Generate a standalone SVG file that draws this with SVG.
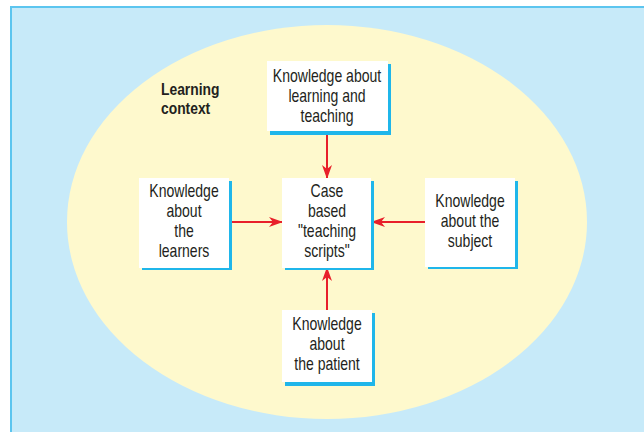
<svg xmlns="http://www.w3.org/2000/svg" width="644" height="432" viewBox="0 0 644 432">
<defs>
<marker id="ah" viewBox="0 0 14 10" refX="13" refY="5" markerWidth="14" markerHeight="10" markerUnits="userSpaceOnUse" orient="auto">
<path d="M0,0 L14,5 L0,10 L4,5 Z" fill="#e8202a"/>
</marker>
</defs>
<style>
.bg{fill:#c7eaf9;stroke:#5cc5ef;stroke-width:2}
.ell{fill:#fef9cd}
.shadow{fill:#1fb6ea}
.box{fill:#ffffff}
.t{font-family:"Liberation Sans",Arial,sans-serif;font-size:18px;fill:#231f20;text-anchor:middle}
.lc{font-family:"Liberation Sans",Arial,sans-serif;font-size:16.5px;font-weight:bold;fill:#231f20}
.conn{stroke:#e8202a;stroke-width:2;fill:none;marker-end:url(#ah)}
</style>
<rect class="bg" x="11" y="7" width="640" height="440"/>
<ellipse class="ell" cx="327" cy="222" rx="260" ry="197"/>
<text class="lc" transform="matrix(0.84 0 0 1 161 95)">Learning</text>
<text class="lc" transform="matrix(0.84 0 0 1 161 114)">context</text>
<g id="connectors">
<line class="conn" x1="327" y1="132" x2="327" y2="178"/>
<line class="conn" x1="229" y1="222" x2="282" y2="222"/>
<line class="conn" x1="425" y1="222" x2="372" y2="222"/>
<line class="conn" x1="327" y1="310" x2="327" y2="268"/>
</g>
<g id="n-top">
<rect class="shadow" x="270" y="64" width="121" height="71"/>
<rect class="box" x="267" y="61" width="121" height="70"/>
<text class="t" transform="matrix(0.78 0 0 1 327 82)">Knowledge about</text>
<text class="t" transform="matrix(0.78 0 0 1 327 102)">learning and</text>
<text class="t" transform="matrix(0.78 0 0 1 327 122)">teaching</text>
</g>
<g id="n-center">
<rect class="shadow" x="285" y="181" width="89" height="89"/>
<rect class="box" x="282" y="178" width="89" height="90"/>
<text class="t" transform="matrix(0.78 0 0 1 327 197)">Case</text>
<text class="t" transform="matrix(0.78 0 0 1 327 217)">based</text>
<text class="t" transform="matrix(0.78 0 0 1 327 237)">"teaching</text>
<text class="t" transform="matrix(0.78 0 0 1 327 257)">scripts"</text>
</g>
<g id="n-left">
<rect class="shadow" x="142" y="181" width="90" height="89"/>
<rect class="box" x="139" y="178" width="90" height="90"/>
<text class="t" transform="matrix(0.78 0 0 1 184 197)">Knowledge</text>
<text class="t" transform="matrix(0.78 0 0 1 184 217)">about</text>
<text class="t" transform="matrix(0.78 0 0 1 184 237)">the</text>
<text class="t" transform="matrix(0.78 0 0 1 184 257)">learners</text>
</g>
<g id="n-right">
<rect class="shadow" x="428" y="181" width="90" height="88"/>
<rect class="box" x="425" y="178" width="90" height="89"/>
<text class="t" transform="matrix(0.78 0 0 1 470 207)">Knowledge</text>
<text class="t" transform="matrix(0.78 0 0 1 470 227)">about the</text>
<text class="t" transform="matrix(0.78 0 0 1 470 247)">subject</text>
</g>
<g id="n-bottom">
<rect class="shadow" x="285" y="313" width="90" height="73"/>
<rect class="box" x="282" y="310" width="90" height="72"/>
<text class="t" transform="matrix(0.78 0 0 1 327 330)">Knowledge</text>
<text class="t" transform="matrix(0.78 0 0 1 327 350)">about</text>
<text class="t" transform="matrix(0.78 0 0 1 327 370)">the patient</text>
</g>
</svg>
